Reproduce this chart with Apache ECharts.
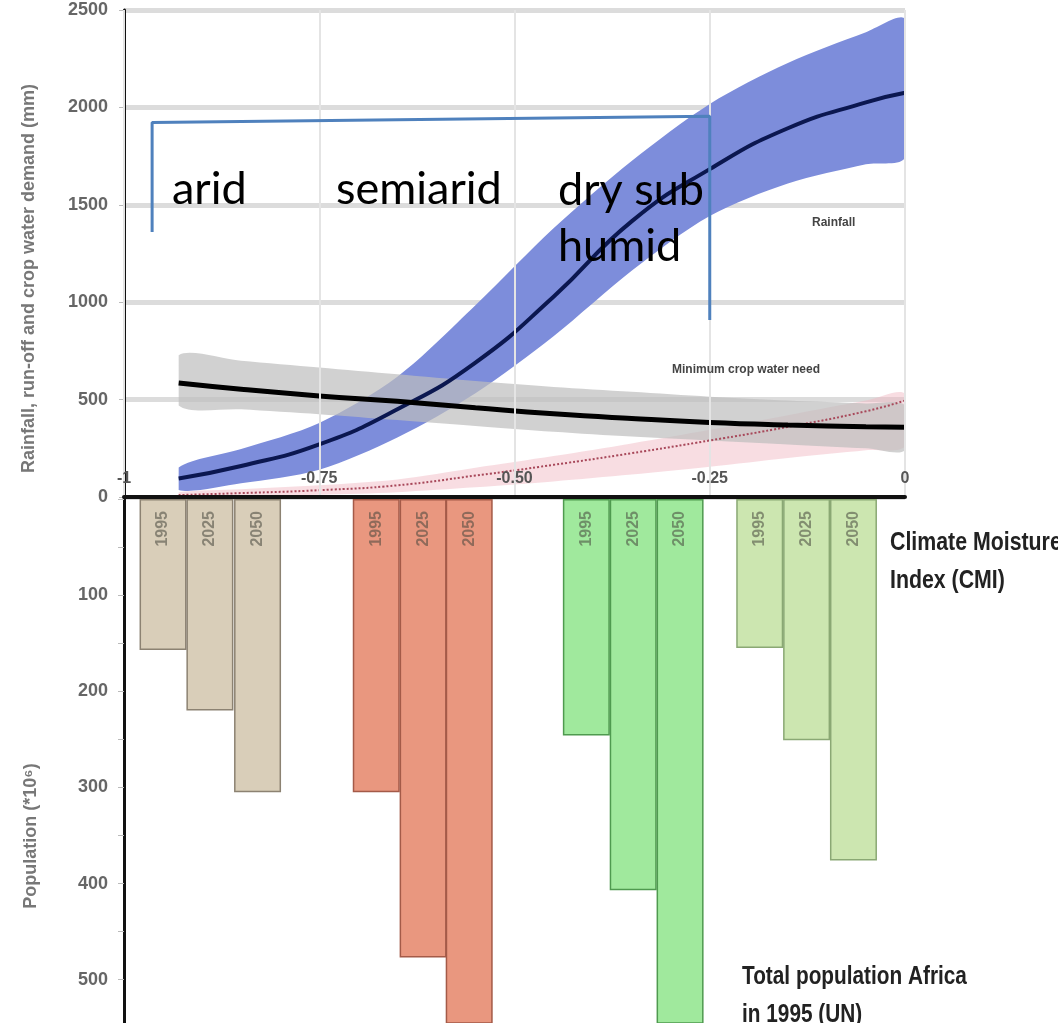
<!DOCTYPE html>
<html>
<head>
<meta charset="utf-8">
<script src="https://cdn.jsdelivr.net/npm/echarts@6/dist/echarts.min.js"></script>
<style>
  html, body { margin: 0; padding: 0; background: #fff; }
  #chart { width: 1058px; height: 1023px; }
</style>
</head>
<body>
<div id="chart"></div>
<script>
// climate moisture index positions for the curves (top panel)
var curveX = [-0.93, -0.85, -0.75, -0.65, -0.55, -0.45, -0.35, -0.25, -0.15, -0.05, 0];
var rainfallMid = [95, 159, 270, 450, 690, 1028, 1415, 1683, 1893, 2026, 2075];
var rainfallHigh = [152, 246, 380, 617, 984, 1379, 1725, 2018, 2228, 2386, 2450];
var rainfallLow = [36, 70, 140, 305, 532, 825, 1161, 1442, 1609, 1708, 1746];
var cropNeed = [585, 553, 519, 491, 458, 427, 403, 383, 370, 361, 358];
var cropHigh = [728, 700, 665, 630, 595, 565, 540, 515, 495, 480, 470];
var cropLow = [470, 450, 425, 395, 365, 335, 310, 290, 270, 250, 240];
var runoff = [10, 20, 35, 60, 110, 165, 225, 290, 360, 440, 495];
var runoffHigh = [25, 40, 60, 90, 150, 210, 275, 345, 420, 495, 530];
var runoffLow = [0, 5, 12, 25, 50, 80, 115, 155, 200, 240, 260];

// population bars (bottom panel), millions
var zones = ['arid', 'semiarid', 'dry sub humid', 'moist sub humid'];
var barYears = ['1995', '2025', '2050'];
var barX = [
    [-0.95, -0.89, -0.829],
    [-0.677, -0.617, -0.558],
    [-0.408, -0.348, -0.288],
    [-0.186, -0.126, -0.066]
];
var population = [
    [157, 220, 305],
    [305, 477, 600],
    [246, 407, 600],
    [155, 251, 376]
];
var zoneColors = ['#d9ceb9', '#e9977f', '#a0e99d', '#cce6b0'];
var zoneBorders = ['#8c8272', '#a45a48', '#4f9a4f', '#8aa874'];

// overlay bracket
var bracketX = [-0.964, -0.964, -0.25, -0.25];
var bracketY = [1360, 1923, 1954, 908];

function pairs(xs, ys) {
    return xs.map(function (x, i) { return [x, ys[i]]; });
}

// shaded uncertainty band between two curves, drawn as one polygon
function band(name, hi, lo, color) {
    return {
        name: name, type: 'custom', xAxisIndex: 0, yAxisIndex: 0, clip: true,
        data: curveX.map(function (x, i) { return [x, lo[i], hi[i]]; }),
        encode: {x: 0, y: [1, 2]},
        renderItem: function (params, api) {
            if (params.dataIndex !== 0) return;
            var pts = [];
            curveX.forEach(function (x, i) { pts.push(api.coord([x, hi[i]])); });
            for (var i = curveX.length - 1; i >= 0; i--) pts.push(api.coord([curveX[i], lo[i]]));
            var topLeft = api.coord([curveX[0], 2500]);
            var bottomRight = api.coord([curveX[curveX.length - 1], 0]);
            return {
                type: 'polygon',
                shape: {points: pts, smooth: 0.3, smoothConstraint: [topLeft, bottomRight]},
                style: {fill: color}
            };
        },
        silent: true
    };
}

var barData = [];
zones.forEach(function (z, g) {
    barYears.forEach(function (yr, k) {
        barData.push({
            name: z + ' ' + yr,
            value: [barX[g][k], population[g][k]],
            year: yr,
            itemStyle: {color: zoneColors[g], borderColor: zoneBorders[g], borderWidth: 1.5}
        });
    });
});

var chart = echarts.init(document.getElementById('chart'));
var labelFont = 'Liberation Sans';

var option = {
    animation: false,
    grid: [
        {left: 124, right: 153, top: 10, height: 487},
        {left: 124, right: 153, top: 499, height: 524}
    ],
    xAxis: [
        {
            gridIndex: 0, type: 'value', min: -1, max: 0, interval: 0.25,
            axisLine: {onZero: false, lineStyle: {color: '#111', width: 4}},
            axisTick: {show: false},
            axisLabel: {
                inside: true, margin: 10, fontSize: 16, fontWeight: 'bold',
                color: '#555', fontFamily: labelFont,
                formatter: function (v) {
                    if (v === -1) return '-1';
                    if (v === 0) return '0';
                    return v.toFixed(2);
                }
            },
            splitLine: {lineStyle: {color: '#e4e4e4', width: 2}},
            z: 10
        },
        {
            gridIndex: 1, type: 'value', min: -1, max: 0, position: 'top',
            axisLine: {show: false, onZero: false}, axisTick: {show: false},
            axisLabel: {show: false}, splitLine: {show: false}
        }
    ],
    yAxis: [
        {
            gridIndex: 0, type: 'value', min: 0, max: 2500, interval: 500,
            axisLine: {show: true, onZero: false, lineStyle: {color: '#111', width: 3}},
            axisTick: {show: true, length: 5, lineStyle: {color: '#bbb'}},
            axisLabel: {
                fontSize: 18, fontWeight: 'bold', color: '#666', margin: 16, fontFamily: labelFont,
                formatter: function (v) { return String(v); }
            },
            splitLine: {lineStyle: {color: '#dcdcdc', width: 5}},
            name: 'Rainfall, run-off and crop water demand (mm)',
            nameLocation: 'middle', nameGap: 86,
            nameTextStyle: {fontSize: 18, fontWeight: 'bold', color: '#777', fontFamily: labelFont, padding: [0, 50, 0, 0]}
        },
        {
            gridIndex: 1, type: 'value', min: 0, max: 545, interval: 50, inverse: true,
            axisLine: {show: true, onZero: false, lineStyle: {color: '#111', width: 3}},
            axisTick: {show: true, length: 6, lineStyle: {color: '#bbb'}},
            axisLabel: {
                fontSize: 18, fontWeight: 'bold', color: '#666', margin: 16, fontFamily: labelFont,
                formatter: function (v) { return (v > 0 && v % 100 === 0) ? String(v) : ''; }
            },
            splitLine: {show: false},
            name: 'Population (*10\u2076)',
            nameLocation: 'middle', nameGap: 84,
            nameTextStyle: {fontSize: 18, fontWeight: 'bold', color: '#777', fontFamily: labelFont, padding: [0, 150, 0, 0]}
        }
    ],
    series: [
        {
            name: 'Population', type: 'bar', xAxisIndex: 1, yAxisIndex: 1,
            barWidth: 47, clip: true, data: barData,
            label: {
                show: true, position: 'insideTop', rotate: 90, align: 'right',
                verticalAlign: 'middle', distance: 12,
                fontSize: 16, fontWeight: 'bold', color: 'rgba(70,70,60,0.55)',
                formatter: function (p) { return p.data.year; }
            }
        },
        band('runoffBand', runoffHigh, runoffLow, 'rgba(240,180,190,0.45)'),
        {
            name: 'Run-off', type: 'line', smooth: true, symbol: 'none',
            data: pairs(curveX, runoff),
            lineStyle: {color: '#a8485a', width: 2, type: 'dotted'}
        },
        band('rainBand', rainfallHigh, rainfallLow, '#7d8ddb'),
        {
            name: 'Rainfall', type: 'line', smooth: true, symbol: 'none',
            data: pairs(curveX, rainfallMid),
            lineStyle: {color: '#0b1750', width: 4}
        },
        band('cropBand', cropHigh, cropLow, 'rgba(190,190,190,0.7)'),
        {
            name: 'Minimum crop water need', type: 'line', smooth: true, symbol: 'none',
            data: pairs(curveX, cropNeed),
            lineStyle: {color: '#000', width: 5}
        },
        {
            name: 'bracket', type: 'line', symbol: 'none', z: 20,
            data: pairs(bracketX, bracketY),
            lineStyle: {color: '#4f81bd', width: 3}
        }
    ],
    graphic: [
        {type: 'text', left: 812, top: 217, z: 30,
            style: {text: 'Rainfall', font: 'bold 12px ' + labelFont, fill: '#444'}},
        {type: 'text', left: 672, top: 364, z: 30,
            style: {text: 'Minimum crop water need', font: 'bold 12px ' + labelFont, fill: '#444'}},
        {type: 'text', x: 890, y: 524, scaleX: 0.82, z: 30,
            style: {text: 'Climate Moisture\nIndex (CMI)', font: 'bold 26px ' + labelFont, fill: '#222', lineHeight: 38}},
        {type: 'text', x: 742, y: 958, scaleX: 0.8, z: 30,
            style: {text: 'Total population Africa\nin 1995 (UN)', font: 'bold 26px ' + labelFont, fill: '#222', lineHeight: 38}},
        {type: 'text', left: 172, top: 167, z: 30,
            style: {text: 'arid', font: '45px Lato', fill: '#000'}},
        {type: 'text', left: 336, top: 167, z: 30,
            style: {text: 'semiarid', font: '45px Lato', fill: '#000'}},
        {type: 'text', left: 558, top: 162, z: 30,
            style: {text: 'dry sub\nhumid', font: '45px Lato', fill: '#000', lineHeight: 56}}
    ]
};

chart.setOption(option);
</script>
</body>
</html>
